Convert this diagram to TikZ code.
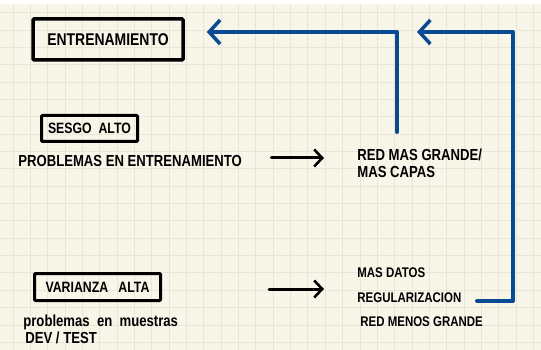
\documentclass[tikz,border=0pt]{standalone}
\usepackage{fontspec}
\setmainfont[FakeStretch=0.82]{Liberation Sans}
\usetikzlibrary{arrows.meta}

\definecolor{paper}{RGB}{248,245,233}
\definecolor{gridc}{RGB}{232,229,217}
\definecolor{penblue}{RGB}{8,74,148}

\tikzset{every picture/.style={line width=0.75pt}}
\tikzset{
  gridline/.style={draw=gridc, line width=1pt},
  hand/.style={inner sep=0pt, anchor=west, font=\bfseries\fontsize{16}{18}\selectfont},
  smallhand/.style={hand, font=\bfseries\fontsize{14}{16}\selectfont},
  titlebox/.style={draw, line width=3.5pt, rounded corners=1pt, inner sep=0pt},
  backarrow/.style={draw=penblue, line width=4pt, line cap=round, line join=round,
    -{Straight Barb[length=11pt, width=24pt, line width=3.5pt]}},
  fixarrow/.style={draw, line width=3pt, line cap=round,
    -{Straight Barb[length=8pt, width=17pt, line width=2.6pt]}}
}

\begin{document}
\begin{tikzpicture}[x=1pt,y=1pt,yscale=-1,xscale=1]
	\useasboundingbox (0,0) rectangle (541,350);
	% paper and grid
	\fill[white] (0,0) rectangle (541,350);
	\fill[paper] (0,4) rectangle (541,350);
	\foreach \i in {0,...,30} \draw[gridline] ({13+17.35*\i},4) -- ({13+17.35*\i},350);
	\foreach \j in {0,...,19} \draw[gridline] (0,{12.7+17.35*\j}) -- (541,{12.7+17.35*\j});

	% Boxes
	\node[titlebox, minimum width=150, minimum height=41, font=\bfseries\fontsize{17}{19}\selectfont] (entr) at (108,39.5) {ENTRENAMIENTO};
	\node[titlebox, line width=3pt, minimum width=96, minimum height=26, font=\bfseries\fontsize{15}{17}\selectfont] (sesgo) at (89.5,128.5) {SESGO\ \ ALTO};
	\node[titlebox, line width=3pt, minimum width=126, minimum height=27, font=\bfseries\fontsize{15}{17}\selectfont] (varz) at (97.5,287) {VARIANZA\ \ \ ALTA};

	% Text Node
	\node[hand] (prob1) at (18,161) {PROBLEMAS EN ENTRENAMIENTO};
	% Text Node
	\node[hand] (red1) at (357,155) {RED MAS GRANDE/};
	\node[hand] (capas) at (357,172) {MAS CAPAS};
	% Text Node
	\node[hand] (prob2) at (23,322) {problemas \ en \ muestras};
	\node[hand] (devt) at (25,338) {DEV / TEST};
	% Text Node
	\node[smallhand] (datos) at (357,273) {MAS DATOS};
	\node[smallhand] (regul) at (357,298) {REGULARIZACION};
	\node[smallhand] (red2) at (360,322) {RED MENOS GRANDE};

	% black arrows
	\draw[fixarrow, shorten <=29pt, shorten >=33pt] (prob1.east |- 0,158) -- (red1.west |- 0,158);
	\draw[fixarrow, shorten <=107pt, shorten >=33pt] (varz.east |- 0,289) -- (regul.west |- 0,289);

	% blue arrows back
	\coordinate (up1) at (397,132);
	\draw[backarrow, shorten >=22pt] (up1) -- (397,32) -- (entr.east |- 0,32);
	\coordinate (up2) at (477,301);
	\coordinate (tip2) at (417,32);
	\draw[backarrow] (up2) -- (513,301) -- (513,32) -- (tip2);

\end{tikzpicture}
\end{document}
